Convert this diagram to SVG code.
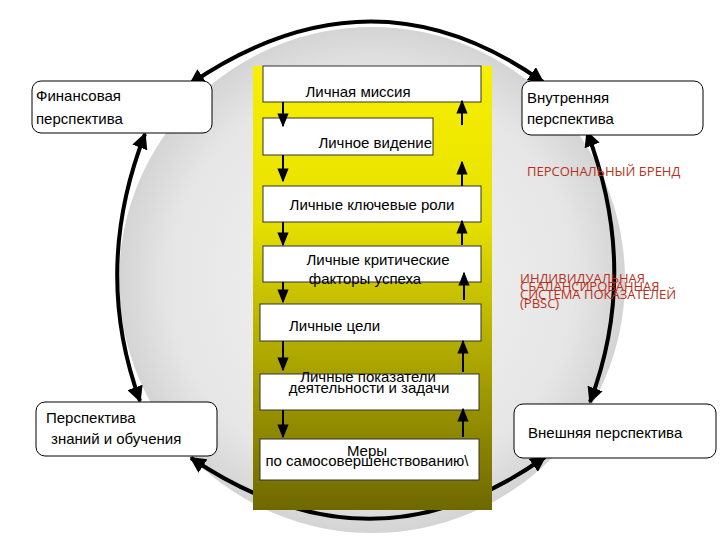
<svg xmlns="http://www.w3.org/2000/svg" width="720" height="540" viewBox="0 0 720 540">
<defs>
<radialGradient id="cg" cx="0.5" cy="0.5" r="0.5">
<stop offset="0" stop-color="#f4f4f4"/><stop offset="0.8" stop-color="#e6e6e6"/><stop offset="1" stop-color="#d4d4d4"/>
</radialGradient>
<linearGradient id="yg" x1="0" y1="0" x2="0" y2="1">
<stop offset="0" stop-color="#f8f000"/><stop offset="0.35" stop-color="#e6e000"/><stop offset="1" stop-color="#6e6800"/>
</linearGradient>
<marker id="ah" viewBox="0 0 10 10" refX="9" refY="5" markerWidth="4" markerHeight="4" orient="auto-start-reverse">
<path d="M0,0 L10,5 L0,10 z" fill="#000"/>
</marker>
<marker id="sa" viewBox="0 0 10 10" refX="9" refY="5" markerWidth="7" markerHeight="7" orient="auto-start-reverse">
<path d="M0,1 L10,5 L0,9 z" fill="#000"/>
</marker>
</defs>
<style>
.t{font-family:"Liberation Sans",Arial,sans-serif;font-size:15px;fill:#000}
.r{font-family:"Open Sans","Liberation Sans",sans-serif;font-size:13px;fill:#b8301c}
.pb{fill:#fff;stroke:#000;stroke-width:1}
.wb{fill:#fff;stroke:#333;stroke-width:1}
.arc{fill:none;stroke:#000;stroke-width:4;marker-start:url(#ah);marker-end:url(#ah)}
.sm{fill:none;stroke:#000;stroke-width:2;marker-end:url(#sa)}
</style>
<rect width="720" height="540" fill="#fff"/>
<circle cx="372" cy="280" r="253" fill="url(#cg)"/>
<g id="connectors">
<path class="arc" d="M190,84 Q372,-40 543,82"/>
<path class="arc" d="M145,134 Q92,270 140,401"/>
<path class="arc" d="M587,132 Q640,270 590,402"/>
<path class="arc" d="M191,458 Q372,580 545,457"/>
</g>
<rect x="253" y="66" width="239" height="444" fill="url(#yg)"/>
<g id="steps">
<g id="s1"><rect class="wb" x="263" y="66" width="218" height="36"/><text class="t" x="358" y="97" text-anchor="middle">Личная миссия</text></g>
<g id="s2"><rect class="wb" x="263" y="118" width="170" height="37"/><text class="t" x="432" y="148" text-anchor="end">Личное видение</text></g>
<g id="s3"><rect class="wb" x="263" y="186" width="218" height="36"/><text class="t" x="372" y="210" text-anchor="middle">Личные ключевые роли</text></g>
<g id="s4"><rect class="wb" x="263" y="246" width="218" height="36"/><text class="t" x="378" y="265" text-anchor="middle">Личные критические</text><text class="t" x="365" y="284" text-anchor="middle">факторы успеха</text></g>
<g id="s5"><rect class="wb" x="260" y="304" width="221" height="37"/><text class="t" x="289" y="331">Личные цели</text></g>
<g id="s6"><rect class="wb" x="260" y="374" width="219" height="36"/><text class="t" x="368" y="382" text-anchor="middle">Личные показатели</text><text class="t" x="369" y="393" text-anchor="middle">деятельности и задачи</text></g>
<g id="s7"><rect class="wb" x="260" y="439" width="219" height="41"/><text class="t" x="367" y="456" text-anchor="middle" font-size="16">Меры</text><text class="t" x="367" y="466" text-anchor="middle">по самосовершенствованию\</text></g>
</g>
<g id="flow">
<path class="sm" d="M283,102 V126"/><path class="sm" d="M283,155 V181"/><path class="sm" d="M283,222 V245"/>
<path class="sm" d="M283,282 V302"/><path class="sm" d="M283,341 V370"/><path class="sm" d="M283,410 V437"/>
<path class="sm" d="M462,125 V101"/><path class="sm" d="M462,186 V162"/><path class="sm" d="M462,245 V221"/>
<path class="sm" d="M464,300 V273"/><path class="sm" d="M463,372 V341"/><path class="sm" d="M463,437 V409"/>
</g>
<g id="fin"><rect class="pb" x="32" y="81" width="180" height="52" rx="9"/><text class="t" x="36" y="101">Финансовая</text><text class="t" x="36" y="124">перспектива</text></g>
<g id="int"><rect class="pb" x="522" y="81" width="181" height="54" rx="9"/><text class="t" x="527" y="103">Внутренняя</text><text class="t" x="527" y="124">перспектива</text></g>
<g id="know"><rect class="pb" x="36" y="402" width="181" height="54" rx="9"/><text class="t" x="46" y="423" font-size="16">Перспектива</text><text class="t" x="51" y="444" font-size="16">знаний и обучения</text></g>
<g id="ext"><rect class="pb" x="514" y="404" width="202" height="54" rx="9"/><text class="t" x="528" y="438">Внешняя перспектива</text></g>
<text class="r" x="527" y="176" font-size="14">ПЕРСОНАЛЬНЫЙ БРЕНД</text>
<text class="r" x="520" y="283" font-size="12">ИНДИВИДУАЛЬНАЯ</text>
<text class="r" x="520" y="291" font-size="12">СБАЛАНСИРОВАННАЯ</text>
<text class="r" x="520" y="299" font-size="12">СИСТЕМА ПОКАЗАТЕЛЕЙ</text>
<text class="r" x="520" y="308" font-size="12">(PBSC)</text>
</svg>
